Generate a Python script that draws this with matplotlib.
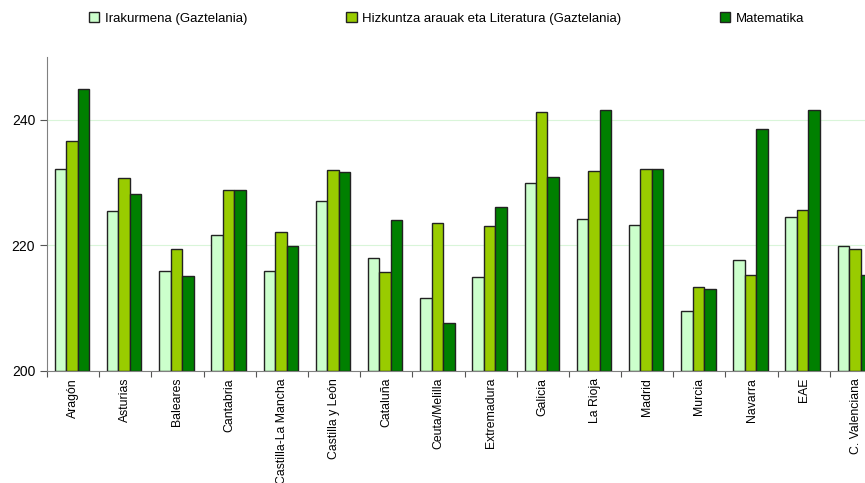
# grouped bar chart: reading / language / maths scores by region

import numpy as np
import matplotlib.pyplot as plt

plt.rcParams['font.family'] = ['Liberation Sans', 'DejaVu Sans']

regions = ['Aragón', 'Asturias', 'Baleares', 'Cantabria', 'Castilla-La Mancha',
           'Castilla y León', 'Cataluña', 'Ceuta/Melilla', 'Extremadura', 'Galicia',
           'La Rioja', 'Madrid', 'Murcia', 'Navarra', 'EAE', 'C. Valenciana']

irakurmena = [232.2, 225.4, 215.9, 221.7, 215.9, 227.1, 218.0, 211.7,
              214.9, 229.9, 224.2, 223.3, 209.6, 217.7, 224.6, 219.9]
hizkuntza = [236.7, 230.7, 219.5, 228.8, 222.1, 232.0, 215.7, 223.5,
             223.1, 241.3, 231.8, 232.2, 213.4, 215.3, 225.7, 219.5]
matematika = [244.9, 228.2, 215.1, 228.8, 219.9, 231.7, 224.0, 207.7,
              226.1, 230.9, 241.5, 232.2, 213.0, 238.5, 241.5, 215.3]

series_names = ['Irakurmena (Gaztelania)',
                'Hizkuntza arauak eta Literatura (Gaztelania)',
                'Matematika']
colors = ['#ccffcc', '#99cc00', '#008000']

fig = plt.figure(figsize=(8.65, 4.83), dpi=100)
# axes goes past right edge on purpose (last group is cut off in the original)
ax = fig.add_axes([47 / 865, 112 / 483, 835 / 865, 314 / 483])

x = np.arange(len(regions))
w = 0.22
bars = []
for k, (vals, col) in enumerate(zip([irakurmena, hizkuntza, matematika], colors)):
    b = ax.bar(x + (k - 1) * w - 0.02, np.array(vals) - 200, width=w, bottom=200,
               color=col, edgecolor='#222222', linewidth=1.0, zorder=3)
    bars.append(b)

ax.set_ylim(200, 250)
ax.set_xlim(-0.5, len(regions) - 0.5)
ax.set_yticks([200, 220, 240])
ax.yaxis.grid(True, color='#d9f5d9', linewidth=0.8, zorder=0)

# category ticks sit between the groups
ax.set_xticks(np.arange(len(regions) + 1) - 0.5)
ax.set_xticklabels([])
ax.set_xticks(x, minor=True)
ax.set_xticklabels(regions, minor=True, rotation=90, fontsize=8.8, va='top')
ax.tick_params(axis='x', which='minor', length=0, pad=5)
ax.tick_params(axis='x', which='major', length=4, color='#555555')
ax.tick_params(axis='y', length=5, labelsize=10, color='#555555')

for s in ['top', 'right']:
    ax.spines[s].set_visible(False)
ax.spines['left'].set_color('#808080')
ax.spines['bottom'].set_color('#808080')

fig.legend(bars, series_names, loc='upper left', bbox_to_anchor=(0.089, 1.0),
           ncol=3, frameon=False, fontsize=9.5, handlelength=0.8, handleheight=0.8,
           handletextpad=0.4, columnspacing=7.5)

plt.savefig('out.png', dpi=100)
